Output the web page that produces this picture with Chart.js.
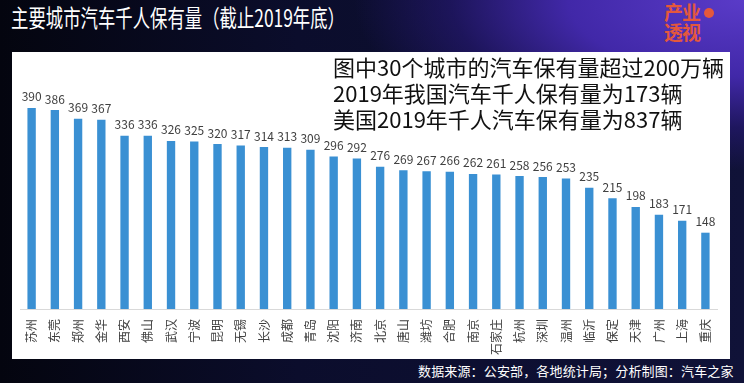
<!DOCTYPE html>
<html>
<head>
<meta charset="utf-8">
<script src="https://cdn.jsdelivr.net/npm/chart.js@4/dist/chart.umd.min.js"></script>
<style>
  html, body { margin: 0; padding: 0; }
  body {
    width: 744px; height: 383px; overflow: hidden; position: relative;
    background:
      radial-gradient(ellipse 390px 170px at 100% 0%, #5a3bc8 0%, #4128a8 45%, rgba(40,25,120,0.6) 75%, rgba(10,11,40,0) 100%),
      linear-gradient(90deg, #04050f 0%, #0b0d2c 40%, #101238 100%);
    font-family: "Noto Sans CJK SC", "Noto Sans", sans-serif;
  }
  #title {
    position: absolute; left: 11px; top: 2px; color: #ffffff;
    font-size: 24px; line-height: 30px; white-space: nowrap;
    transform-origin: 0 0; transform: scaleX(0.724);
  }
  #logo {
    position: absolute; left: 664px; top: 2px; color: #e4583c;
    font-size: 19px; line-height: 20px; font-weight: 700; letter-spacing: -1px;
  }
  #logo .dot { position:absolute; left: 40px; top: 6px; width: 10px; height: 10px; border-radius: 50%; background: #e4583c; }
  #panel {
    position: absolute; left: 12px; top: 52px; width: 718px; height: 307px; background: #ffffff;
  }
  #chartWrap { position: absolute; left: 0; top: 0; width: 718px; height: 307px; }
  #note {
    position: absolute; left: 333px; top: 53px; color: #111111;
    font-size: 22px; line-height: 26px; white-space: nowrap;
  }
  #source {
    position: absolute; left: 418px; top: 362px; color: #ffffff;
    font-size: 13px; line-height: 18px; white-space: nowrap; letter-spacing: 0.15px;
  }
</style>
</head>
<body>
<div id="title">主要城市汽车千人保有量（截止2019年底）</div>
<div id="logo"><div class="dot"></div>产业<br>透视</div>
<div id="panel"><div id="chartWrap"><canvas id="c"></canvas></div></div>
<div id="note">图中30个城市的汽车保有量超过200万辆<br>2019年我国汽车千人保有量为173辆<br>美国2019年千人汽车保有量为837辆</div>
<div id="source">数据来源：公安部，各地统计局；分析制图：汽车之家</div>
<script>
const cities = ['苏州','东莞','郑州','金华','西安','佛山','武汉','宁波','昆明','无锡','长沙','成都','青岛','沈阳','济南','北京','唐山','潍坊','合肥','南京','石家庄','杭州','深圳','温州','临沂','保定','天津','广州','上海','重庆'];
const carsPerThousand = [390,386,369,367,336,336,326,325,320,317,314,313,309,296,292,276,269,267,266,262,261,258,256,253,235,215,198,183,171,148];

const valueLabels = {
  id: 'valueLabels',
  afterDatasetsDraw(chart) {
    const ctx = chart.ctx;
    const meta = chart.getDatasetMeta(0);
    ctx.save();
    ctx.font = '12px "Noto Sans CJK SC", sans-serif';
    ctx.fillStyle = '#404040';
    ctx.textAlign = 'center';
    ctx.textBaseline = 'bottom';
    meta.data.forEach((bar, i) => {
      ctx.fillText(String(chart.data.datasets[0].data[i]), bar.x, bar.y - 5);
    });
    ctx.restore();
  }
};

new Chart(document.getElementById('c'), {
  type: 'bar',
  data: {
    labels: cities,
    datasets: [{
      data: carsPerThousand,
      backgroundColor: '#3a90d3',
      borderWidth: 0,
      categoryPercentage: 1,
      barPercentage: 0.36
    }]
  },
  options: {
    responsive: true,
    maintainAspectRatio: false,
    animation: false,
    devicePixelRatio: 1,
    layout: { padding: { left: 8, right: 11, top: 25, bottom: 2 } },
    plugins: { legend: { display: false }, tooltip: { enabled: false } },
    scales: {
      x: {
        grid: { display: false, drawTicks: false },
        border: { display: true, color: '#d9d9d9', width: 1 },
        afterFit(scale) { scale.height = 48; },
        ticks: {
          autoSkip: false, minRotation: 90, maxRotation: 90, padding: 10,
          color: '#404040',
          font: { size: 12, family: '"Noto Sans CJK SC", sans-serif' }
        }
      },
      y: {
        display: false,
        min: 0,
        max: 450
      }
    }
  },
  plugins: [valueLabels]
});
</script>
</body>
</html>
